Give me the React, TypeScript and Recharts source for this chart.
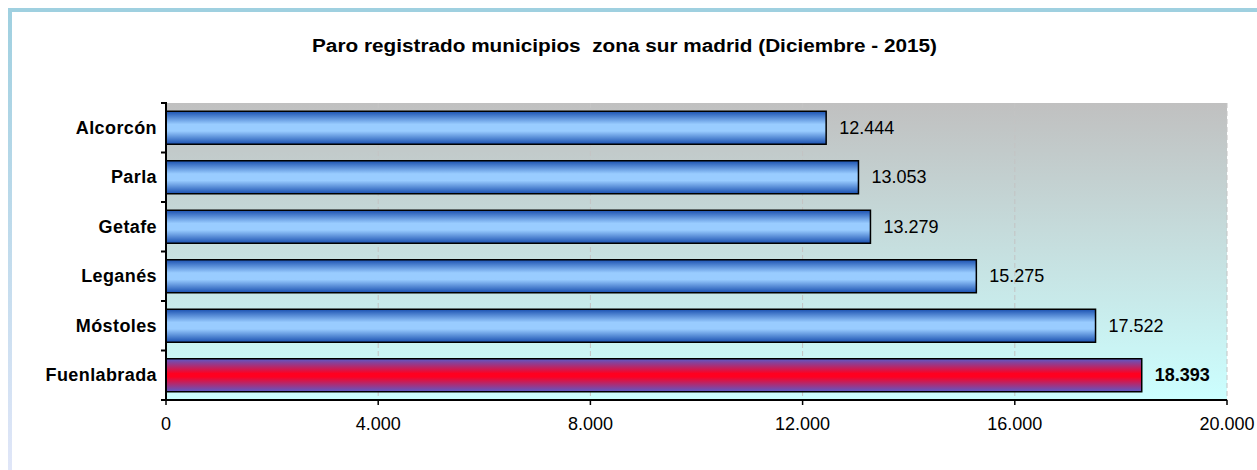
import { Bar, BarChart, CartesianGrid, Cell, LabelList, XAxis, YAxis } from 'recharts'

const municipios = ['Alcorcón', 'Parla', 'Getafe', 'Leganés', 'Móstoles', 'Fuenlabrada']
const parados = [12444, 13053, 13279, 15275, 17522, 18393]
const xTicks = [0, 4000, 8000, 12000, 16000, 20000]
const destacado = 'Fuenlabrada'

const data = municipios.map((name, i) => ({ name, value: parados[i] }))

const FONT = '"Liberation Sans", Arial, sans-serif'
const PLOT_TOP = 103
const PLOT_BOTTOM = 400
const BAND = (PLOT_BOTTOM - PLOT_TOP) / municipios.length

const fmt = (v: number) => String(v).replace(/\B(?=(\d{3})+(?!\d))/g, '.')

function CategoryTick({ x, y, payload, index }: any) {
  const isLast = index === municipios.length - 1
  return (
    <g>
      <line x1={x + 3} x2={x + 9} y1={y - BAND / 2} y2={y - BAND / 2} stroke="#000" strokeWidth={2} />
      {isLast && <line x1={x + 3} x2={x + 9} y1={y + BAND / 2} y2={y + BAND / 2} stroke="#000" strokeWidth={2} />}
      <text x={x - 1} y={y} dy={6} textAnchor="end" fontFamily={FONT} fontSize={18} fontWeight="bold" fill="#000" letterSpacing={0.4}>
        {payload.value}
      </text>
    </g>
  )
}

function ValueTick({ x, payload }: any) {
  return (
    <text x={x} y={PLOT_BOTTOM + 30} textAnchor="middle" fontFamily={FONT} fontSize={18} fill="#000">
      {fmt(payload.value)}
    </text>
  )
}

function ValueLabel({ x, y, width, height, value, index }: any) {
  const bold = municipios[index] === destacado
  return (
    <text x={x + width + 13} y={y + height / 2} dy={6} fontFamily={FONT} fontSize={18} fontWeight={bold ? 'bold' : 'normal'} fill="#000">
      {fmt(value)}
    </text>
  )
}

export default function App() {
  return (
    <div style={{ position: 'absolute', left: 0, top: 0, width: 1257, height: 470, background: '#fff', overflow: 'hidden' }}>
      <div style={{ position: 'absolute', left: 8, top: 8, width: 1249, height: 4, background: '#9fd0e0' }} />
      <div style={{ position: 'absolute', left: 8, top: 8, width: 4, height: 462, background: 'linear-gradient(#9fd0e0, #e0e6f8)' }} />
      <svg style={{ position: 'absolute', left: 0, top: 0 }} width={1257} height={80}>
        <text x={312} y={52} textLength={625} lengthAdjust="spacingAndGlyphs" fontFamily={FONT} fontSize={18} fontWeight="bold" fill="#000" style={{ whiteSpace: 'pre' }}>
          Paro registrado municipios  zona sur madrid (Diciembre - 2015)
        </text>
      </svg>
      <div style={{ position: 'absolute', left: 0, top: 0 }}>
        <BarChart
          width={1257}
          height={470}
          data={data}
          layout="vertical"
          margin={{ top: PLOT_TOP, right: 30, bottom: 470 - PLOT_BOTTOM - 40, left: 16 }}
          barCategoryGap="16.5%"
        >
          <defs>
            <linearGradient id="bg" x1="0" y1="0" x2="0" y2="1">
              <stop offset="0" stopColor="#c0c0c0" />
              <stop offset="1" stopColor="#ccffff" />
            </linearGradient>
            <linearGradient id="azul" x1="0" y1="0" x2="0" y2="1">
              <stop offset="0" stopColor="#1a50b0" />
              <stop offset="0.4" stopColor="#99ccff" />
              <stop offset="0.6" stopColor="#99ccff" />
              <stop offset="1" stopColor="#1a50b0" />
            </linearGradient>
            <linearGradient id="rojo" x1="0" y1="0" x2="0" y2="1">
              <stop offset="0" stopColor="#5a5ac8" />
              <stop offset="0.45" stopColor="#ff0020" />
              <stop offset="0.55" stopColor="#ff0020" />
              <stop offset="1" stopColor="#5a5ac8" />
            </linearGradient>
          </defs>
          <CartesianGrid horizontal={false} stroke="#c4c4c4" strokeDasharray="5 3" fill="url(#bg)" />
          <XAxis
            type="number"
            domain={[0, 20000]}
            ticks={xTicks}
            interval={0}
            height={40}
            axisLine={{ stroke: '#000', strokeWidth: 2 }}
            tickLine={{ stroke: '#000', strokeWidth: 1.5 }}
            tickSize={5}
            tick={<ValueTick />}
          />
          <YAxis
            type="category"
            dataKey="name"
            width={150}
            axisLine={{ stroke: '#000', strokeWidth: 2 }}
            tickLine={false}
            tick={<CategoryTick />}
            interval={0}
          />
          <Bar dataKey="value" stroke="#000" strokeWidth={1.5} isAnimationActive={false}>
            {data.map((d) => (
              <Cell key={d.name} fill={d.name === destacado ? 'url(#rojo)' : 'url(#azul)'} />
            ))}
            <LabelList dataKey="value" content={<ValueLabel />} />
          </Bar>
        </BarChart>
      </div>
    </div>
  )
}
